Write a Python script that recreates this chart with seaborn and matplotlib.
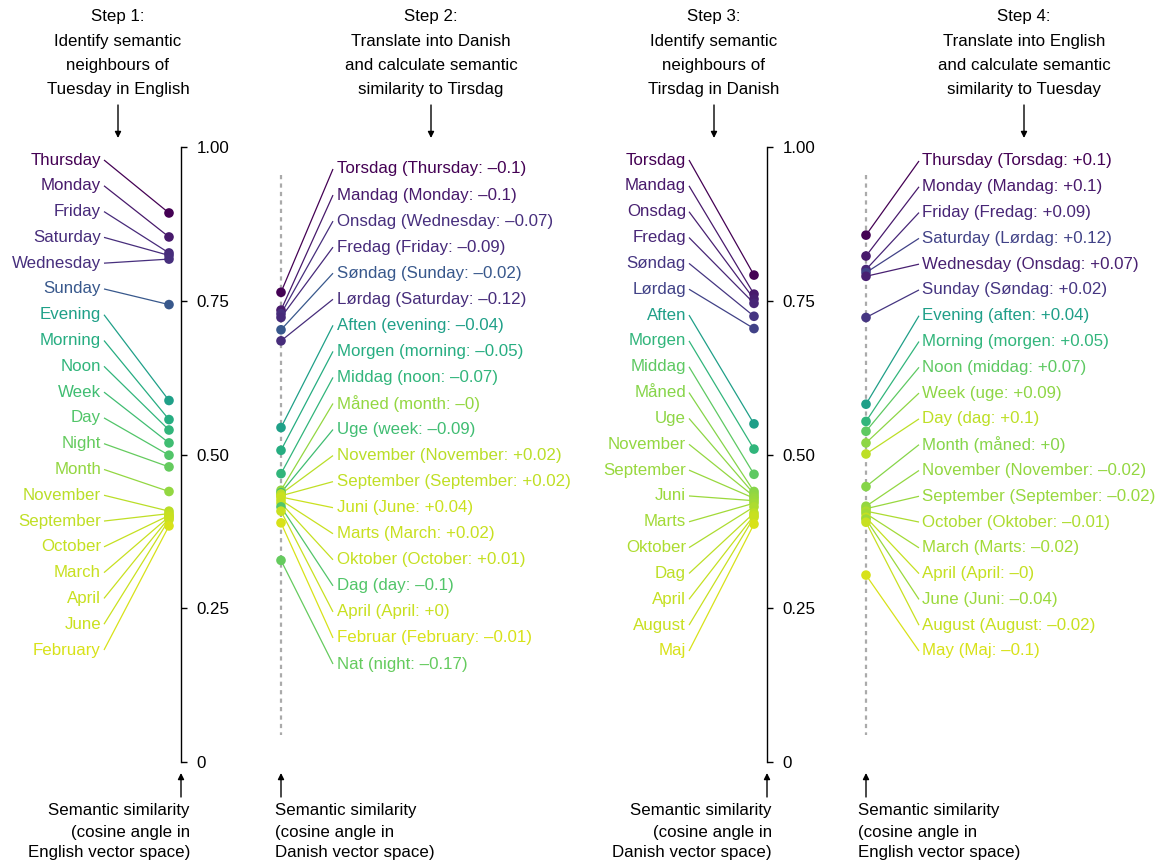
import numpy as np
import pandas as pd
import matplotlib
matplotlib.use("Agg")
import matplotlib.pyplot as plt
from matplotlib.colors import ListedColormap
import seaborn as sns

# step 1: English neighbours of Tuesday
engWords1 = ["Thursday", "Monday", "Friday", "Saturday", "Wednesday", "Sunday", "Evening",
             "Morning", "Noon", "Week", "Day", "Night", "Month", "November", "September",
             "October", "March", "April", "June", "February"]
engSim1 = [0.893, 0.854, 0.828, 0.824, 0.818, 0.744, 0.588, 0.557, 0.540, 0.519, 0.499,
           0.480, 0.440, 0.408, 0.404, 0.401, 0.399, 0.397, 0.394, 0.384]

# step 2: translated into Danish, similarity to Tirsdag
danWords2 = ["Torsdag", "Mandag", "Onsdag", "Fredag", "Søndag", "Lørdag", "Aften", "Morgen",
             "Middag", "Måned", "Uge", "November", "September", "Juni", "Marts", "Oktober",
             "Dag", "April", "Februar", "Nat"]
engGloss2 = ["Thursday", "Monday", "Wednesday", "Friday", "Sunday", "Saturday", "evening",
             "morning", "noon", "month", "week", "November", "September", "June", "March",
             "October", "day", "April", "February", "night"]
diff2 = ["–0.1", "–0.1", "–0.07", "–0.09", "–0.02", "–0.12", "–0.04", "–0.05", "–0.07", "–0",
         "–0.09", "+0.02", "+0.02", "+0.04", "+0.02", "+0.01", "–0.1", "+0", "–0.01", "–0.17"]
danSim2 = [0.764, 0.735, 0.729, 0.723, 0.703, 0.685, 0.544, 0.507, 0.469, 0.442, 0.438,
           0.436, 0.433, 0.431, 0.426, 0.421, 0.415, 0.408, 0.389, 0.328]

# step 3: Danish neighbours of Tirsdag
danWords3 = ["Torsdag", "Mandag", "Onsdag", "Fredag", "Søndag", "Lørdag", "Aften", "Morgen",
             "Middag", "Måned", "Uge", "November", "September", "Juni", "Marts", "Oktober",
             "Dag", "April", "August", "Maj"]
danSim3 = [0.792, 0.761, 0.753, 0.746, 0.725, 0.705, 0.550, 0.509, 0.468, 0.440, 0.436,
           0.432, 0.429, 0.425, 0.421, 0.415, 0.405, 0.401, 0.398, 0.387]

# step 4: translated into English, similarity to Tuesday
engWords4 = ["Thursday", "Monday", "Friday", "Saturday", "Wednesday", "Sunday", "Evening",
             "Morning", "Noon", "Week", "Day", "Month", "November", "September", "October",
             "March", "April", "June", "August", "May"]
danGloss4 = ["Torsdag", "Mandag", "Fredag", "Lørdag", "Onsdag", "Søndag", "aften", "morgen",
             "middag", "uge", "dag", "måned", "November", "September", "Oktober", "Marts",
             "April", "Juni", "August", "Maj"]
diff4 = ["+0.1", "+0.1", "+0.09", "+0.12", "+0.07", "+0.02", "+0.04", "+0.05", "+0.07", "+0.09",
         "+0.1", "+0", "–0.02", "–0.02", "–0.01", "–0.02", "–0", "–0.04", "–0.02", "–0.1"]
engSim4 = [0.857, 0.823, 0.801, 0.796, 0.790, 0.723, 0.582, 0.554, 0.538, 0.519, 0.501,
           0.448, 0.416, 0.412, 0.408, 0.404, 0.398, 0.395, 0.390, 0.304]

tickVals = [0, 0.25, 0.5, 0.75, 1.0]
tickLabels = ["0", "0.25", "0.50", "0.75", "1.00"]

headers = [
    ["Step 1:", "Identify semantic", "neighbours of", "Tuesday in English"],
    ["Step 2:", "Translate into Danish", "and calculate semantic", "similarity to Tirsdag"],
    ["Step 3:", "Identify semantic", "neighbours of", "Tirsdag in Danish"],
    ["Step 4:", "Translate into English", "and calculate semantic", "similarity to Tuesday"],
]
footers = [
    ["Semantic similarity", "(cosine angle in", "English vector space)"],
    ["Semantic similarity", "(cosine angle in", "Danish vector space)"],
    ["Semantic similarity", "(cosine angle in", "Danish vector space)"],
    ["Semantic similarity", "(cosine angle in", "English vector space)"],
]

# layout (pixels of the 1164x864 canvas)
W, H = 1164, 864
zeroPx, pxPerUnit = 762.0, 614.8


def pxToVal(py):
    return (zeroPx - py) / pxPerUnit


sns.set_theme(style="white")
plt.rcParams["font.family"] = ["Liberation Sans", "DejaVu Sans"]
fs = 12.2

base = plt.get_cmap("viridis")
cmap = ListedColormap(base(np.linspace(0.0, 0.94, 256))[::-1])

fig = plt.figure(figsize=(W / 100, H / 100), dpi=100)
ax = fig.add_axes([0, 0, 1, 1])

engLookup = {w.lower(): v for w, v in zip(engWords1, engSim1)}
danLookup = {w.lower(): v for w, v in zip(danWords3, danSim3)}

panels = [
    dict(labels=engWords1, sim=engSim1, colourVal=engSim1, side="left",
         labelX=101, lineX=104, dotX=169, rows=(160, 650)),
    dict(labels=[f"{d} ({e}: {x})" for d, e, x in zip(danWords2, engGloss2, diff2)],
         sim=danSim2, colourVal=[engLookup[e.lower()] for e in engGloss2], side="right",
         labelX=337, lineX=333, dotX=281, rows=(169, 664)),
    dict(labels=danWords3, sim=danSim3, colourVal=danSim3, side="left",
         labelX=686, lineX=689, dotX=754, rows=(160, 651)),
    dict(labels=[f"{e} ({d}: {x})" for e, d, x in zip(engWords4, danGloss4, diff4)],
         sim=engSim4, colourVal=[danLookup[d.lower()] for d in danGloss4], side="right",
         labelX=922, lineX=919, dotX=866, rows=(161, 651)),
]

for p in panels:
    n = len(p["labels"])
    rowY = np.linspace(pxToVal(p["rows"][0]), pxToVal(p["rows"][1]), n)
    cv = np.array(p["colourVal"])
    norm = plt.Normalize(cv.min(), cv.max())
    colours = cmap(norm(cv))
    if p["side"] == "right":
        ax.plot([p["dotX"], p["dotX"]], [pxToVal(175), pxToVal(735)], color="#aaaaaa",
                lw=1.6, dashes=(1.9, 1.9), zorder=1)
    for i in range(n):
        ax.plot([p["lineX"], p["dotX"]], [rowY[i], p["sim"][i]], color=colours[i], lw=0.9,
                zorder=2, solid_capstyle="butt")
        ax.text(p["labelX"], rowY[i], p["labels"][i], color=colours[i], fontsize=fs,
                ha="right" if p["side"] == "left" else "left", va="center")
    df = pd.DataFrame({"x": [p["dotX"]] * n, "sim": p["sim"], "c": cv})
    sns.scatterplot(data=df, x="x", y="sim", hue="c", palette=cmap, hue_norm=norm, s=48,
                    linewidth=0, legend=False, ax=ax, zorder=3)
ax.set_xlim(0, W)
ax.set_ylim(pxToVal(H), pxToVal(0))
ax.set_axis_off()

# similarity axes for step 1 and step 3
for axX in [181, 767]:
    sax = fig.add_axes([(axX - 20) / W, (H - zeroPx) / H, 20 / W, pxPerUnit / H])
    sax.set_facecolor("none")
    sax.set_ylim(0, 1)
    for s in ["left", "top", "bottom"]:
        sax.spines[s].set_visible(False)
    sax.spines["right"].set_color("black")
    sax.spines["right"].set_linewidth(1.0)
    sax.set_xticks([])
    sax.yaxis.tick_right()
    sax.set_yticks(tickVals)
    sax.set_yticklabels(tickLabels, fontsize=fs)
    sax.tick_params(axis="y", direction="out", length=4, width=1.0, pad=7, color="black",
                    labelcolor="black", right=True, left=False)

# headers and arrows
headX = [118, 431, 714, 1024]
for cx, lines in zip(headX, headers):
    for j, t in enumerate(lines):
        fig.text(cx / W, 1 - (17 + 24.2 * j) / H, t, fontsize=fs, ha="center", va="center",
                 color="black")
    ax.annotate("", xy=(cx, pxToVal(138)), xytext=(cx, pxToVal(105)),
                arrowprops=dict(arrowstyle="-|>", color="black", lw=1.0, mutation_scale=9,
                                shrinkA=0, shrinkB=0))

footX = [(190, "right"), (275, "left"), (772, "right"), (858, "left")]
arrowX = [181, 281, 767, 866]
for (fx, ha), lines, axX in zip(footX, footers, arrowX):
    for j, t in enumerate(lines):
        fig.text(fx / W, 1 - (811 + 21 * j) / H, t, fontsize=fs, ha=ha, va="center",
                 color="black")
    ax.annotate("", xy=(axX, pxToVal(773)), xytext=(axX, pxToVal(797)),
                arrowprops=dict(arrowstyle="-|>", color="black", lw=1.0, mutation_scale=9,
                                shrinkA=0, shrinkB=0))

fig.savefig("out.png", dpi=100)
